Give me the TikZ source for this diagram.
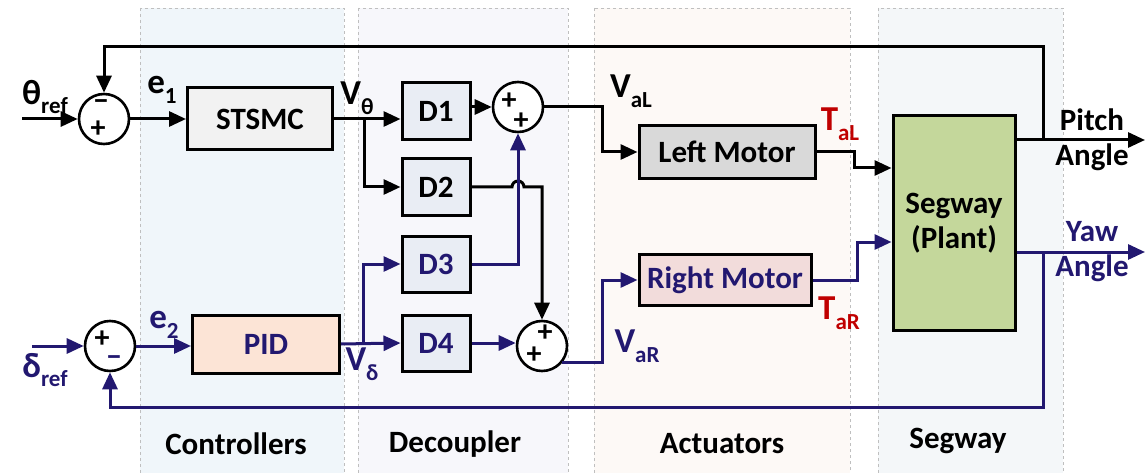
\documentclass[tikz,border=0pt]{standalone}
\usepackage{fontspec}
\setmainfont{Carlito}
\usetikzlibrary{arrows.meta}
\definecolor{navy}{RGB}{34,24,112}
\definecolor{dred}{RGB}{192,0,0}
\definecolor{pctrl}{RGB}{240,246,250}
\definecolor{pdec}{RGB}{247,247,251}
\definecolor{pact}{RGB}{253,249,246}
\definecolor{pseg}{RGB}{244,247,249}
\definecolor{fgray}{RGB}{242,242,242}
\definecolor{fpid}{RGB}{252,228,214}
\definecolor{fd}{RGB}{233,237,244}
\definecolor{flm}{RGB}{217,217,217}
\definecolor{frm}{RGB}{242,220,219}
\definecolor{fseg}{RGB}{196,215,155}
\newcommand\sbs[1]{\raisebox{-0.28em}{\fontsize{23}{24}\selectfont #1}}
\tikzset{
  blk/.style={draw=black, line width=3pt, inner sep=0pt, font=\fontsize{31}{35}\selectfont\bfseries, align=center},
  sumj/.style={circle, draw=black, fill=white, line width=2.6pt, minimum size=50pt, inner sep=0pt},
  sgn/.style={inner sep=0pt, font=\fontsize{30}{30}\selectfont\bfseries},
  arr/.style={line width=3pt, -{Triangle[length=17pt,width=15pt]}},
  lbl/.style={inner sep=0pt, font=\fontsize{35}{38}\selectfont\bfseries, align=center},
  plbl/.style={inner sep=0pt, font=\fontsize{31}{35}\selectfont\bfseries, align=center},
  panel/.style={draw=black!25, dashed, line width=0.8pt},
}
\begin{document}
\begin{tikzpicture}[x=1pt,y=-1pt]
\useasboundingbox (0,0) rectangle (1145,473);
% panels
\fill[white] (0,0) rectangle (1145,473);
\draw[panel, fill=pctrl] (140,8) rectangle (344,480);
\draw[panel, fill=pdec] (358,8) rectangle (568,480);
\draw[panel, fill=pact] (594,8) rectangle (850,480);
\draw[panel, fill=pseg] (878,8) rectangle (1063,480);
\node[plbl] (lc) at (236,444) {Controllers};
\node[plbl] (ld) at (455,444) {Decoupler};
\node[plbl] (la) at (722,444) {Actuators};
\node[plbl] (ls) at (958,441) {Segway};

% blocks
\node[blk, fill=fgray, minimum width=145pt, minimum height=62pt] (stsmc) at (260,119) {STSMC};
\node[blk, fill=fpid, minimum width=147pt, minimum height=58pt, text=navy] (pid) at (266,344) {PID};
\node[blk, fill=fd, minimum width=68pt, minimum height=57pt] (d1) at (436,111) {D1};
\node[blk, fill=fd, minimum width=68pt, minimum height=56pt] (d2) at (436,187) {D2};
\node[blk, fill=fd, minimum width=68pt, minimum height=56pt, text=navy] (d3) at (436,264) {D3};
\node[blk, fill=fd, minimum width=68pt, minimum height=56pt, text=navy] (d4) at (436,343) {D4};
\node[blk, fill=flm, minimum width=176pt, minimum height=53pt] (lm) at (727,152) {Left Motor};
\node[blk, fill=frm, minimum width=172pt, minimum height=51pt, text=navy] (rm) at (725,280) {Right Motor};
\node[blk, fill=fseg, minimum width=122pt, minimum height=214pt] (seg) at (954,223) {Segway\\(Plant)};

% summing junctions
\node[sumj] (s1) at (104,119) {};
\node[sgn] (s1m) at (101,105) {−};
\node[sgn] (s1p) at (98,129) {+};
\node[sumj] (s2) at (518,107) {};
\node[sgn] (s2a) at (509,101) {+};
\node[sgn] (s2b) at (521,121) {+};
\node[sumj] (s3) at (542,346) {};
\node[sgn] (s3a) at (545,333) {+};
\node[sgn] (s3b) at (534,355) {+};
\node[sumj] (s4) at (110,346) {};
\node[sgn] (s4p) at (102,339) {+};
\node[sgn, text=navy] (s4m) at (114,361) {−};

% labels
\node[lbl] (lth) at (45,97) {θ\sbs{ref}};
\node[lbl] (le1) at (162,90) {e\sbs{1}};
\node[lbl] (lvth) at (357,98) {V\sbs{θ}};
\node[lbl] (lval) at (631,91) {V\sbs{aL}};
\node[lbl, text=dred] (ltal) at (840,124) {T\sbs{aL}};
\node[lbl, text=navy] (ldel) at (45,370) {δ\sbs{ref}};
\node[lbl, text=navy] (le2) at (164,325) {e\sbs{2}};
\node[lbl, text=navy] (lvd) at (362,364) {V\sbs{δ}};
\node[lbl, text=navy] (lvar) at (637,346) {V\sbs{aR}};
\node[lbl, text=dred] (ltar) at (839,313) {T\sbs{aR}};
\node[plbl] (lpitch) at (1092,140) {Pitch\\Angle};
\node[plbl, text=navy] (lyaw) at (1092,252) {Yaw\\Angle};

% coordinates
\coordinate (thin) at (22,119);
\coordinate (dlin) at (32,346);
\coordinate (pb) at (1043,140);
\coordinate (fbt) at (1043,47);
\coordinate (yb) at (1043,252);
\coordinate (yfb) at (1043,407);
\coordinate (pout) at (1145,140);
\coordinate (yout) at (1145,252);
\coordinate (bth) at (364,119);
\coordinate (bd) at (363,343);
\coordinate (hp) at (518,187);
\coordinate (va) at (602,107);
\coordinate (vb) at (602,0);
\coordinate (tl) at (854,168);
\coordinate (tr) at (857,242);

% black connectors
\draw[arr] (thin) -- (s1.west);
\draw[arr] (s1.east) -- (stsmc.west);
\draw[arr] (stsmc.east) -- (stsmc.east -| d1.west);
\draw[arr] (bth) |- (d2.west);
\draw[arr] (s2.west -| d1.east) -- (s2.west);
\draw[arr] (d2.east) -- ([xshift=-6pt]hp) arc (180:360:6) -- (s3.north |- hp) -- (s3.north);
\draw[arr] (s2.east) -- (va) |- (lm.west);
\draw[arr] (lm.east) -| (tl) -- (tl -| seg.west);
\draw[arr] (seg.east |- pout) -- (pout);
\draw[arr] (pb) -- (fbt) -| (s1.north);

% navy connectors
\begin{scope}[navy]
\draw[arr] (dlin) -- (s4.west);
\draw[arr] (s4.east) -- (s4.east -| pid.west);
\draw[arr] (pid.east) -- (d4.west);
\draw[arr] (bd) |- (d3.west);
\draw[arr] (d3.east) -| (s2.south);
\draw[arr] (d4.east) -- (d4.east -| s3.west);
\draw[arr] (s3.-40) -- (vb |- s3.-40) -- (vb |- rm.west) -- (rm.west);
\draw[arr] (rm.east) -| (tr) -- (tr -| seg.west);
\draw[arr] (seg.east |- yout) -- (yout);
\draw[arr] (yb) -- (yfb) -| (s4.south);
\end{scope}
\end{tikzpicture}
\end{document}
